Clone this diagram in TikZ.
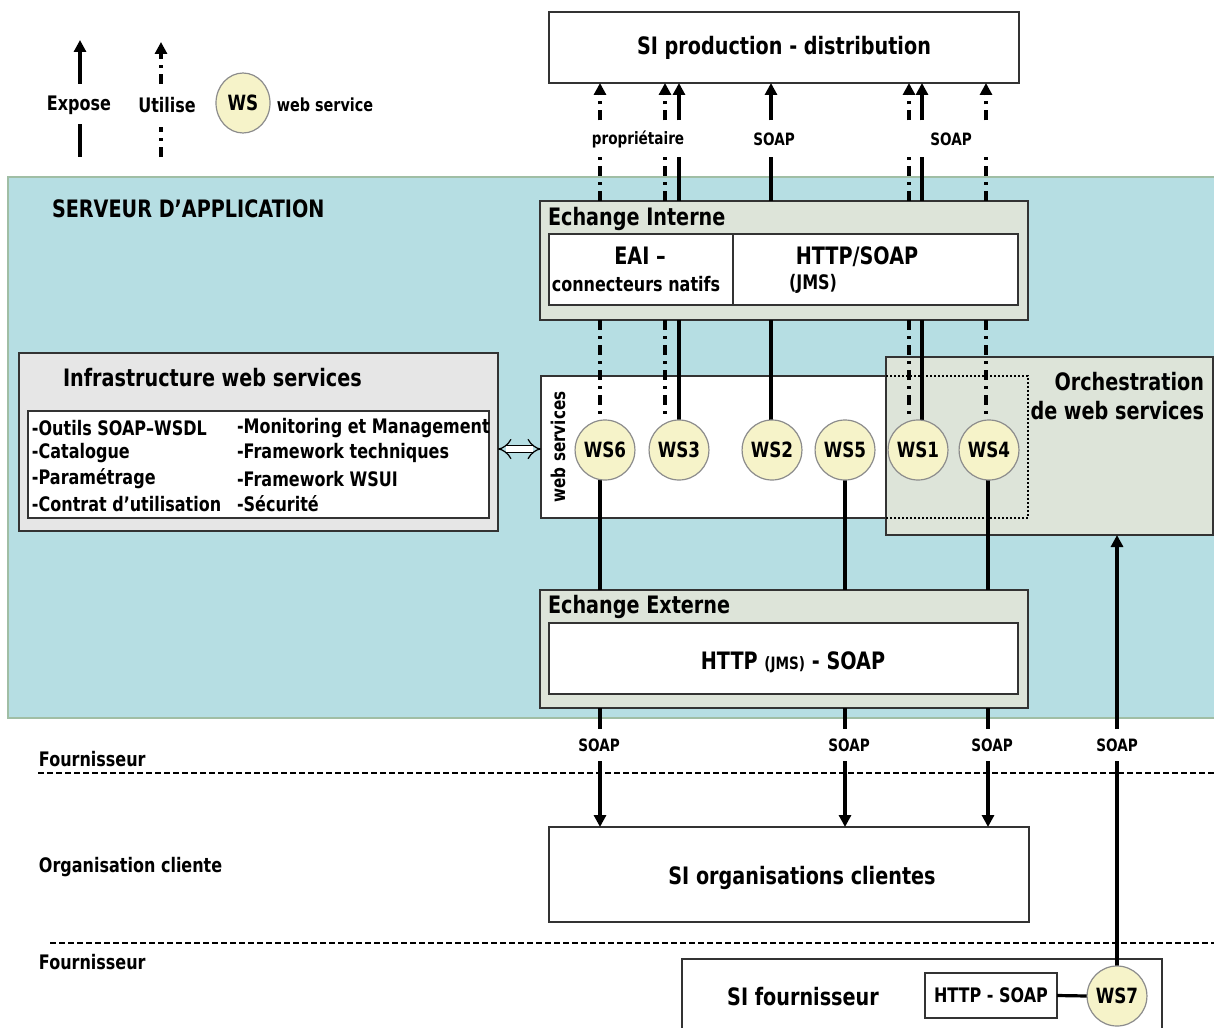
\documentclass[tikz,border=0pt]{standalone}
\usepackage{fontspec}
\setmainfont{DejaVu Sans}[FakeStretch=0.8]
\usetikzlibrary{arrows.meta,shapes.geometric}
\pgfdeclarelayer{front}
\pgfsetlayers{main,front}
\definecolor{srvblue}{RGB}{182,222,227}
\definecolor{srvline}{RGB}{160,190,165}
\definecolor{boxgrn}{RGB}{221,228,217}
\definecolor{infgray}{RGB}{230,230,230}
\definecolor{wsyel}{RGB}{246,243,201}
\begin{document}
\begin{tikzpicture}[x=0.5pt,y=-0.5pt,
  txt/.style={inner sep=0pt, outer sep=0pt},
  big/.style={txt, font=\bfseries\fontsize{12}{14.5}\selectfont},
  med/.style={txt, font=\bfseries\fontsize{10}{12}\selectfont},
  sml/.style={txt, font=\bfseries\fontsize{8.5}{10}\selectfont},
  box/.style={draw=black!80, line width=0.7pt, fill=white, inner sep=0pt, outer sep=0pt},
  grnbox/.style={box, fill=boxgrn},
  wsnode/.style={ellipse, draw=black!45, line width=0.6pt, fill=wsyel, minimum width=27pt, minimum height=30pt, inner sep=0pt, outer sep=0pt, font=\bfseries\fontsize{10.5}{12}\selectfont},
  exposeline/.style={line width=1.6pt},
  utilline/.style={line width=1.6pt, dash pattern=on 5pt off 3pt on 1.5pt off 3pt},
  withhead/.style={-{Triangle[length=6pt,width=6pt]}},
  lbl/.style={sml, minimum height=18.5pt},
  blbl/.style={sml, minimum height=16pt},
  dashline/.style={line width=1pt, dash pattern=on 3pt off 1.5pt},
]
\clip (0,0) rectangle (1214,1027);

% x positions of connectors
\coordinate (c600) at (600,0);
\coordinate (c665) at (665,0);
\coordinate (c679) at (679,0);
\coordinate (c771) at (771,0);
\coordinate (c845) at (845,0);
\coordinate (c909) at (909,0);
\coordinate (c922) at (922,0);
\coordinate (c986) at (986,0);
\coordinate (c988) at (988,0);
\coordinate (c1117) at (1117,0);
\coordinate (dy) at (0,449);

% ---------- legend ----------
\node[med] (lgexp) at (79,105) {Expose};
\node[med] (lgutil) at (167,105) {Utilise};
\node[sml, font=\bfseries\fontsize{9}{11}\selectfont] (lgwstxt) at (325,105) {web service};
\coordinate (lgE1) at (80,157);
\coordinate (lgE2) at (80,124);
\coordinate (lgE3) at (80,84);
\coordinate (lgE4) at (80,40);
\coordinate (lgU1) at (161,157);
\coordinate (lgU2) at (161,127);
\coordinate (lgU3) at (161,84);
\coordinate (lgU4) at (161,42);
\draw[exposeline] (lgE1) -- (lgE2);
\draw[exposeline, withhead] (lgE3) -- (lgE4);
\draw[utilline] (lgU1) -- (lgU2);
\draw[utilline, withhead] (lgU3) -- (lgU4);

% ---------- top box ----------
\node[box, big, minimum width=235pt, minimum height=35.5pt] (siprod) at (784,47.5) {SI production - distribution};

% ---------- application server ----------
\node[draw=srvline, line width=0.7pt, fill=srvblue, minimum width=606pt, minimum height=270.5pt, inner sep=0pt, outer sep=0pt] (srv) at (614,447.5) {};
\node[big, anchor=west] (srvt) at (52,209) {SERVEUR D’APPLICATION};

% Echange interne
\node[grnbox, minimum width=244pt, minimum height=59.5pt] (eiout) at (784,260.5) {};
\node[big, anchor=west] (eit) at (548,219) {Echange Interne};
\node[box, minimum width=92pt, minimum height=35.5pt] (eai) at (641,269.5) {};
\node[box, minimum width=142.5pt, minimum height=35.5pt] (eihttp) at (875.5,269.5) {};
\node[big] (eait) at (640,256) {EAI –};
\node[med] (eaic) at (636,284) {connecteurs natifs};
\node[big] (httpt) at (857,257) {HTTP/SOAP};
\node[med] (jmst) at (813,284) {(JMS)};

% Infrastructure
\node[box, fill=infgray, minimum width=239.5pt, minimum height=89pt] (infra) at (258.5,442) {};
\node[big, anchor=west] (infrat) at (63,378) {Infrastructure web services};
\node[box, minimum width=230.5pt, minimum height=53.5pt] (infin) at (258.5,464.5) {};
\node[med, anchor=west] (i1) at (32,428) {-Outils SOAP–WSDL};
\node[med, anchor=west] (i2) at (32,453) {-Catalogue};
\node[med, anchor=west] (i3) at (32,479) {-Paramétrage};
\node[med, anchor=west] (i4) at (32,504) {-Contrat d’utilisation};
\node[med, anchor=west] (i5) at (237,428) {-Monitoring et Management};
\node[med, anchor=west] (i6) at (237,453) {-Framework techniques};
\node[med, anchor=west] (i7) at (237,479) {-Framework WSUI};
\node[med, anchor=west] (i8) at (237,504) {-Sécurité};

% web services box + orchestration
\node[box, minimum width=243.5pt, minimum height=71pt] (wsbox) at (784.5,447) {};
\node[txt, font=\bfseries\fontsize{9.5}{11}\selectfont, rotate=90] (wsboxt) at (558,447) {web services};
\node[grnbox, minimum width=163.5pt, minimum height=89pt] (orch) at (1049.5,446) {};
\node[big, anchor=east, align=right] (orcht) at (1204,396) {Orchestration\\de web services};
\draw[line width=1pt, densely dotted] (orch.west |- wsbox.north) -| (wsbox.east) |- (orch.west |- wsbox.south);

\begin{pgfonlayer}{front}
\node[wsnode] (lgws) at (243,103) {WS};
\node[wsnode] (ws6) at (605,450) {WS6};
\node[wsnode] (ws3) at (679,450) {WS3};
\node[wsnode] (ws2) at (772,450) {WS2};
\node[wsnode] (ws5) at (845,450) {WS5};
\node[wsnode] (ws1) at (918,450) {WS1};
\node[wsnode] (ws4) at (989,450) {WS4};
\node[wsnode] (ws7) at (1117,996) {WS7};
\end{pgfonlayer}

% double arrow
\draw[double, double distance=3pt, line width=0.6pt, {Implies}-{Implies}] (infra.east |- dy) -- (wsbox.west |- dy);

% Echange externe
\node[grnbox, minimum width=244pt, minimum height=59pt] (eeout) at (784,649) {};
\node[big, anchor=west] (eet) at (548,607) {Echange Externe};
\node[box, minimum width=234.5pt, minimum height=35.5pt] (eein) at (783.5,658.5) {};
\node[big] (eeint) at (793,662) {HTTP {\fontsize{8.5}{10}\selectfont(JMS)} - SOAP};

% ---------- top connectors ----------
\node[lbl] (lp) at (638,139) {propriétaire};
\node[lbl] (ls1) at (774,139) {SOAP};
\node[lbl] (ls2) at (951,139) {SOAP};
\draw[utilline] (eiout.north -| c600) -- (lp.south -| c600);
\draw[utilline, withhead] (lp.north -| c600) -- (siprod.south -| c600);
\draw[utilline] (eiout.north -| c665) -- (lp.south -| c665);
\draw[utilline, withhead] (lp.north -| c665) -- (siprod.south -| c665);
\draw[exposeline] (eiout.north -| c679) -- (lp.south -| c679);
\draw[exposeline, withhead] (lp.north -| c679) -- (siprod.south -| c679);
\draw[exposeline] (eiout.north -| c771) -- (ls1.south -| c771);
\draw[exposeline, withhead] (ls1.north -| c771) -- (siprod.south -| c771);
\draw[utilline] (eiout.north -| c909) -- (ls2.south -| c909);
\draw[utilline, withhead] (ls2.north -| c909) -- (siprod.south -| c909);
\draw[exposeline] (eiout.north -| c922) -- (ls2.south -| c922);
\draw[exposeline, withhead] (ls2.north -| c922) -- (siprod.south -| c922);
\draw[utilline] (eiout.north -| c986) -- (ls2.south -| c986);
\draw[utilline, withhead] (ls2.north -| c986) -- (siprod.south -| c986);

% ---------- internal connectors ----------
\draw[utilline] (eiout.south -| c600) -- (ws6.north -| c600);
\draw[utilline] (eiout.south -| c665) -- (ws3.north -| c665);
\draw[exposeline] (eiout.south -| c679) -- (ws3.north -| c679);
\draw[exposeline] (eiout.south -| c771) -- (ws2.north -| c771);
\draw[utilline] (eiout.south -| c909) -- (ws1.north -| c909);
\draw[exposeline] (eiout.south -| c922) -- (ws1.north -| c922);
\draw[utilline] (eiout.south -| c986) -- (ws4.north -| c986);
\draw[exposeline] (ws6.south -| c600) -- (eeout.north -| c600);
\draw[exposeline] (ws5.south -| c845) -- (eeout.north -| c845);
\draw[exposeline] (ws4.south -| c988) -- (eeout.north -| c988);

% ---------- lower zones ----------
\node[med, anchor=west] (zf1) at (39,759) {Fournisseur};
\node[med, anchor=west] (zoc) at (39,867) {Organisation cliente};
\node[med, anchor=west] (zf2) at (39,962) {Fournisseur};
\draw[dashline] (38,773) -- (1214,773);
\draw[dashline] (50,943) -- (1214,943);

\node[box, minimum width=240pt, minimum height=47.5pt] (siorg) at (789,874.5) {};
\node[big] (siorgt) at (802,878) {SI organisations clientes};
\node[box, minimum width=240pt, minimum height=45pt] (sifour) at (922,1004) {};
\node[big] (sifourt) at (803,997) {SI fournisseur};
\node[box, med, minimum width=66pt, minimum height=22.5pt] (httpsoap) at (991,995.5) {HTTP - SOAP};
\draw[exposeline] (httpsoap.east) -- (ws7.west);

\node[blbl] (sb1) at (599,745) {SOAP};
\node[blbl] (sb2) at (849,745) {SOAP};
\node[blbl] (sb3) at (992,745) {SOAP};
\node[blbl] (sb4) at (1117,745) {SOAP};
\draw[exposeline] (eeout.south -| c600) -- (sb1.north -| c600);
\draw[exposeline, withhead] (sb1.south -| c600) -- (siorg.north -| c600);
\draw[exposeline] (eeout.south -| c845) -- (sb2.north -| c845);
\draw[exposeline, withhead] (sb2.south -| c845) -- (siorg.north -| c845);
\draw[exposeline] (eeout.south -| c988) -- (sb3.north -| c988);
\draw[exposeline, withhead] (sb3.south -| c988) -- (siorg.north -| c988);
\draw[exposeline] (ws7.north) -- (sb4.south -| c1117);
\draw[exposeline, withhead] (sb4.north -| c1117) -- (orch.south -| c1117);
\end{tikzpicture}
\end{document}
